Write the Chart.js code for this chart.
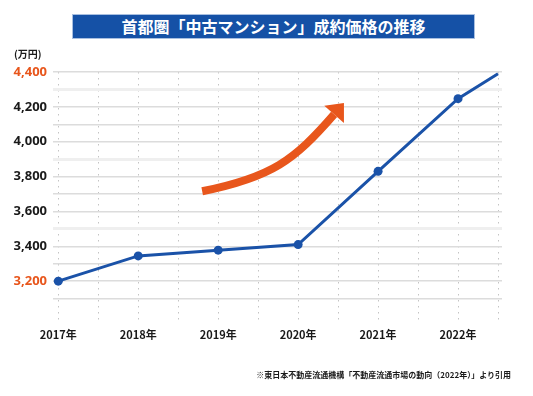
<!DOCTYPE html>
<html lang="ja">
<head>
<meta charset="utf-8">
<script src="https://cdn.jsdelivr.net/npm/chart.js@4.4.0/dist/chart.umd.min.js"></script>
<style>
  body { margin: 0; background: #fff; }
  #wrap { position: relative; width: 533px; height: 396px; font-family: "Noto Sans CJK JP", sans-serif; color: #1a1a1a; }
  #chart { position: absolute; left: 0; top: 0; }
  #title {
    position: absolute; left: 72px; top: 14px; width: 401px; height: 23px;
    background: #1551a6; border: 1px solid #a8bfe0;
    color: #fff; font-weight: bold; font-size: 16px; line-height: 23px; text-align: center;
  }
  #unit { position: absolute; left: 14px; top: 46px; font-size: 10px; font-weight: bold; }
  #source { position: absolute; right: 22px; top: 369px; font-size: 8px; font-weight: bold; white-space: nowrap; }
</style>
</head>
<body>
<div id="wrap">
  <canvas id="chart" width="533" height="396"></canvas>
  <div id="title">首都圏「中古マンション」成約価格の推移</div>
  <div id="unit">(万円)</div>
  <div id="source">※東日本不動産流通機構「不動産流通市場の動向（2022年）」より引用</div>
</div>
<script>
const years = ['2017年', '2018年', '2019年', '2020年', '2021年', '2022年'];
const prices = [3200, 3345, 3378, 3410, 3830, 4247];
const trendEnd = 4390; // line runs on past 2022 without a marker

const yTicks = [3100, 3200, 3300, 3400, 3500, 3600, 3700, 3800, 3900, 4000, 4100, 4200, 4300, 4400];
const yLabelled = [3200, 3400, 3600, 3800, 4000, 4200, 4400];
const yHighlight = [3200, 4400];
const yBands = [3500, 3900, 4300]; // lighter, wider grid lines

// decorative rising arrow, in data units (year index, 万円)
const arrowPath = [[1.8, 3716], [2.67, 3796], [2.95, 3893], [3.45, 4157]];

const BLUE = '#1a52a8';
const ORANGE = '#e8561c';

const halfSteps = [];
for (let i = 0; i <= years.length - 0.5; i += 0.5) halfSteps.push(i);

const points = prices.map((v, i) => ({ x: i, y: v }));
points.push({ x: years.length - 0.5, y: trendEnd });

const arrowPlugin = {
  id: 'riseArrow',
  afterDatasetsDraw(chart) {
    const { ctx, scales: { x, y } } = chart;
    const p = arrowPath.map(([a, b]) => [x.getPixelForValue(a), y.getPixelForValue(b)]);
    ctx.save();
    ctx.strokeStyle = ORANGE;
    ctx.fillStyle = ORANGE;
    ctx.lineWidth = 8;
    ctx.lineCap = 'butt';
    ctx.beginPath();
    ctx.moveTo(p[0][0], p[0][1]);
    ctx.bezierCurveTo(p[1][0], p[1][1], p[2][0], p[2][1], p[3][0], p[3][1]);
    ctx.stroke();
    // head
    const dx = p[3][0] - p[2][0], dy = p[3][1] - p[2][1];
    const len = Math.hypot(dx, dy);
    const ux = dx / len, uy = dy / len;
    const [bx, by] = p[3];
    ctx.beginPath();
    ctx.moveTo(bx + ux * 15, by + uy * 15);
    ctx.lineTo(bx - uy * 13, by + ux * 13);
    ctx.lineTo(bx + uy * 13, by - ux * 13);
    ctx.closePath();
    ctx.fill();
    ctx.restore();
  }
};

new Chart(document.getElementById('chart'), {
  type: 'line',
  data: {
    datasets: [{
      data: points,
      borderColor: BLUE,
      backgroundColor: BLUE,
      borderWidth: 3,
      pointRadius: (c) => (c.dataIndex < years.length ? 4.5 : 0),
      pointBorderWidth: 0,
      pointBackgroundColor: BLUE,
      tension: 0,
      clip: false
    }]
  },
  options: {
    responsive: false,
    animation: false,
    layout: { padding: { top: 72, right: 31, left: 0, bottom: 0 } },
    plugins: { legend: { display: false }, tooltip: { enabled: false } },
    scales: {
      x: {
        type: 'linear',
        min: -0.066,
        max: 5.55,
        afterBuildTicks: (s) => { s.ticks = halfSteps.map((v) => ({ value: v })); },
        afterFit: (s) => { s.height = 73; },
        ticks: {
          autoSkip: false,
          maxRotation: 0,
          padding: 5,
          color: '#1a1a1a',
          font: { family: '"Noto Sans CJK JP", sans-serif', size: 11, weight: 'bold' },
          callback: (v) => (Number.isInteger(v) ? years[v] : '')
        },
        grid: { color: '#c4c4c4', lineWidth: 1, drawTicks: false },
        border: { display: false, dash: [1.5, 4.5] }
      },
      y: {
        min: 2960,
        max: 4400,
        afterBuildTicks: (s) => { s.ticks = yTicks.map((v) => ({ value: v })); },
        afterFit: (s) => { s.width = 53; },
        ticks: {
          autoSkip: false,
          padding: 6,
          color: (c) => (yHighlight.includes(c.tick.value) ? ORANGE : '#1a1a1a'),
          font: { family: '"Noto Sans", sans-serif', size: 13, weight: 'bold' },
          callback: (v) => (yLabelled.includes(v) ? v.toLocaleString('en-US') : '')
        },
        grid: {
          drawTicks: false,
          color: (c) => (yBands.includes(c.tick.value) ? '#efefef' : '#dcdcdc'),
          lineWidth: (c) => (yBands.includes(c.tick.value) ? 3 : 1.5)
        },
        border: { display: false }
      }
    }
  },
  plugins: [arrowPlugin]
});
</script>
</body>
</html>
